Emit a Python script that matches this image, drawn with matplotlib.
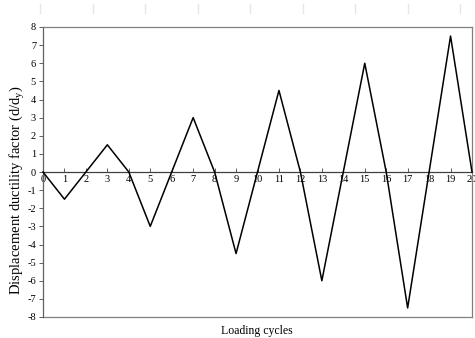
import matplotlib.pyplot as plt
from matplotlib.lines import Line2D

plt.rcParams['font.family'] = ['Liberation Serif', 'DejaVu Serif']
plt.rcParams['axes.unicode_minus'] = False
plt.rcParams['mathtext.default'] = 'regular'

# loading protocol: cycle number vs displacement ductility factor
cycles = list(range(21))
ductility = [0, -1.5, 0, 1.5, 0, -3, 0, 3, 0, -4.5, 0, 4.5, 0, -6, 0, 6, 0, -7.5, 0, 7.5, 0]
yticks = list(range(-8, 9))

fig = plt.figure(figsize=(4.75, 3.38), dpi=100)
ax = fig.add_axes([43 / 475, 1 - 317 / 338, (472 - 43) / 475, (317 - 27) / 338])

ax.plot(cycles, ductility, color='black', linewidth=1.1, clip_on=False, zorder=3)

ax.set_xlim(0, 20)
ax.set_ylim(-8, 8)

# frame in grey, x axis drawn through zero
for s in ['top', 'right', 'left']:
    ax.spines[s].set_color('#808080')
    ax.spines[s].set_linewidth(0.9)
ax.spines['left'].set_color('#606060')
ax.spines['bottom'].set_position(('data', 0))
ax.spines['bottom'].set_color('#404040')
ax.spines['bottom'].set_linewidth(0.9)
ax.axhline(-8, color='#808080', linewidth=0.9, clip_on=False)

ax.set_xticks(cycles)
ax.set_yticks(yticks)
ax.tick_params(axis='x', direction='in', length=3, width=0.7, color='#606060',
               labelsize=7.5, pad=2)
ax.tick_params(axis='y', direction='out', length=3, width=0.7, color='#606060',
               labelsize=7.5, pad=2)

fig.text(18 / 475, 1 - 190 / 338, 'Displacement ductility factor (d/d$_y$)',
         rotation=90, ha='center', va='center', fontsize=10.5)
fig.text(257 / 475, 1 - 331 / 338, 'Loading cycles', ha='center', va='center', fontsize=8.5)

# faint marks at the top of the page
for x in [40, 92.5, 145, 197.5, 250, 302.5, 355, 407.5, 460]:
    fig.add_artist(Line2D([x / 475, x / 475], [1 - 4 / 338, 1 - 13 / 338],
                          color='#e6e6e6', linewidth=1.0))

fig.savefig('out.png', dpi=100)
